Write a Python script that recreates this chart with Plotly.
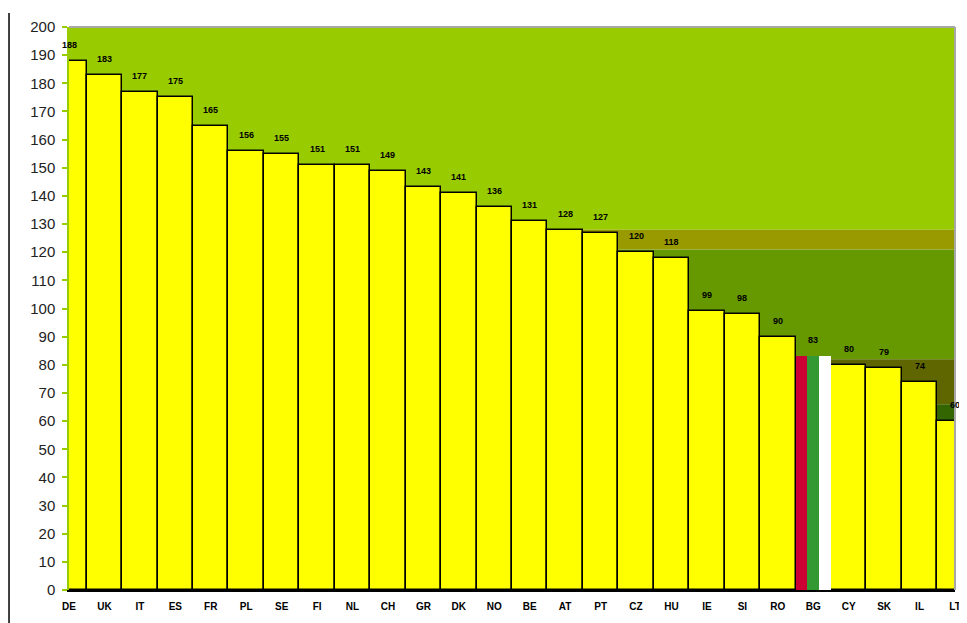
import plotly.graph_objects as go

# ---- data ----
countries = ["DE", "UK", "IT", "ES", "FR", "PL", "SE", "FI", "NL", "CH", "GR", "DK", "NO",
             "BE", "AT", "PT", "CZ", "HU", "IE", "SI", "RO", "BG", "CY", "SK", "IL", "LT"]
values = [188, 183, 177, 175, 165, 156, 155, 151, 151, 149, 143, 141, 136,
          131, 128, 127, 120, 118, 99, 98, 90, 83, 80, 79, 74, 60]
special_country = "BG"
flag_colors = ["#CC0033", "#339933", "#FFFFFF"]
band_edges = [200, 128, 121, 82, 66, 0]
band_colors = ["#99CC00", "#999900", "#669900", "#5F6600", "#336600"]
y_ticks = list(range(0, 201, 10))

# ---- build ----
idx = list(range(len(countries)))
sp = countries.index(special_country)
fill = ["rgba(0,0,0,0)" if c == special_country else "#FFFF00" for c in countries]
lwidth = [0 if c == special_country else 1.5 for c in countries]

fig = go.Figure()
fig.add_bar(x=idx, y=values, width=1,
            marker=dict(color=fill, line=dict(color="black", width=lwidth)),
            hoverinfo="skip", showlegend=False)
n = len(flag_colors)
for k, col in enumerate(flag_colors):
    fig.add_bar(x=[sp], y=[values[sp]], width=[1 / n], offset=[-0.5 + k / n],
                marker=dict(color=col, line=dict(width=0)),
                hoverinfo="skip", showlegend=False)

shapes = []
for i, col in enumerate(band_colors):
    shapes.append(dict(type="rect", xref="paper", yref="y", x0=0, x1=1,
                       y0=band_edges[i + 1], y1=band_edges[i],
                       fillcolor=col, line=dict(width=0), layer="below"))
# plot-area border (top/right) and page rule on the left
shapes.append(dict(type="line", xref="paper", yref="paper", x0=0, x1=1, y0=1, y1=1,
                   line=dict(color="#A8A8A8", width=2)))
shapes.append(dict(type="line", xref="paper", yref="paper", x0=1, x1=1, y0=0, y1=1,
                   line=dict(color="#A8A8A8", width=2)))
shapes.append(dict(type="line", xref="paper", yref="paper", x0=-0.0677, x1=-0.0677,
                   y0=-0.06, y1=1.025, line=dict(color="black", width=1.5)))

annotations = [dict(x=i, y=v, text=str(v), showarrow=False, xanchor="center",
                    yanchor="middle", yshift=16,
                    font=dict(family="Liberation Sans", size=9, color="black", weight="bold"))
               for i, v in zip(idx, values)]

fig.update_layout(
    width=959, height=615,
    margin=dict(l=61, r=12, t=19, b=33, autoexpand=False),
    paper_bgcolor="white", plot_bgcolor="white",
    barmode="overlay", bargap=0,
    shapes=shapes, annotations=annotations,
    font=dict(family="Liberation Sans", color="#222222"),
    xaxis=dict(range=[0, len(countries) - 1], tickmode="array", tickvals=idx,
               ticktext=countries, showline=True, linecolor="black", linewidth=1.5,
               ticks="", showgrid=False, zeroline=False, ticklabelstandoff=6,
               tickfont=dict(family="Liberation Sans", size=10, color="black", weight="bold")),
    yaxis=dict(range=[0, 200], tickmode="array", tickvals=y_ticks,
               showline=True, linecolor="#99CC00", linewidth=1.5,
               ticks="outside", tickcolor="#99CC00", ticklen=5, tickwidth=1.5,
               showgrid=False, zeroline=False, ticklabelstandoff=4,
               tickfont=dict(family="Liberation Sans", size=15, color="#222222")),
)

fig.write_html("out.html")
